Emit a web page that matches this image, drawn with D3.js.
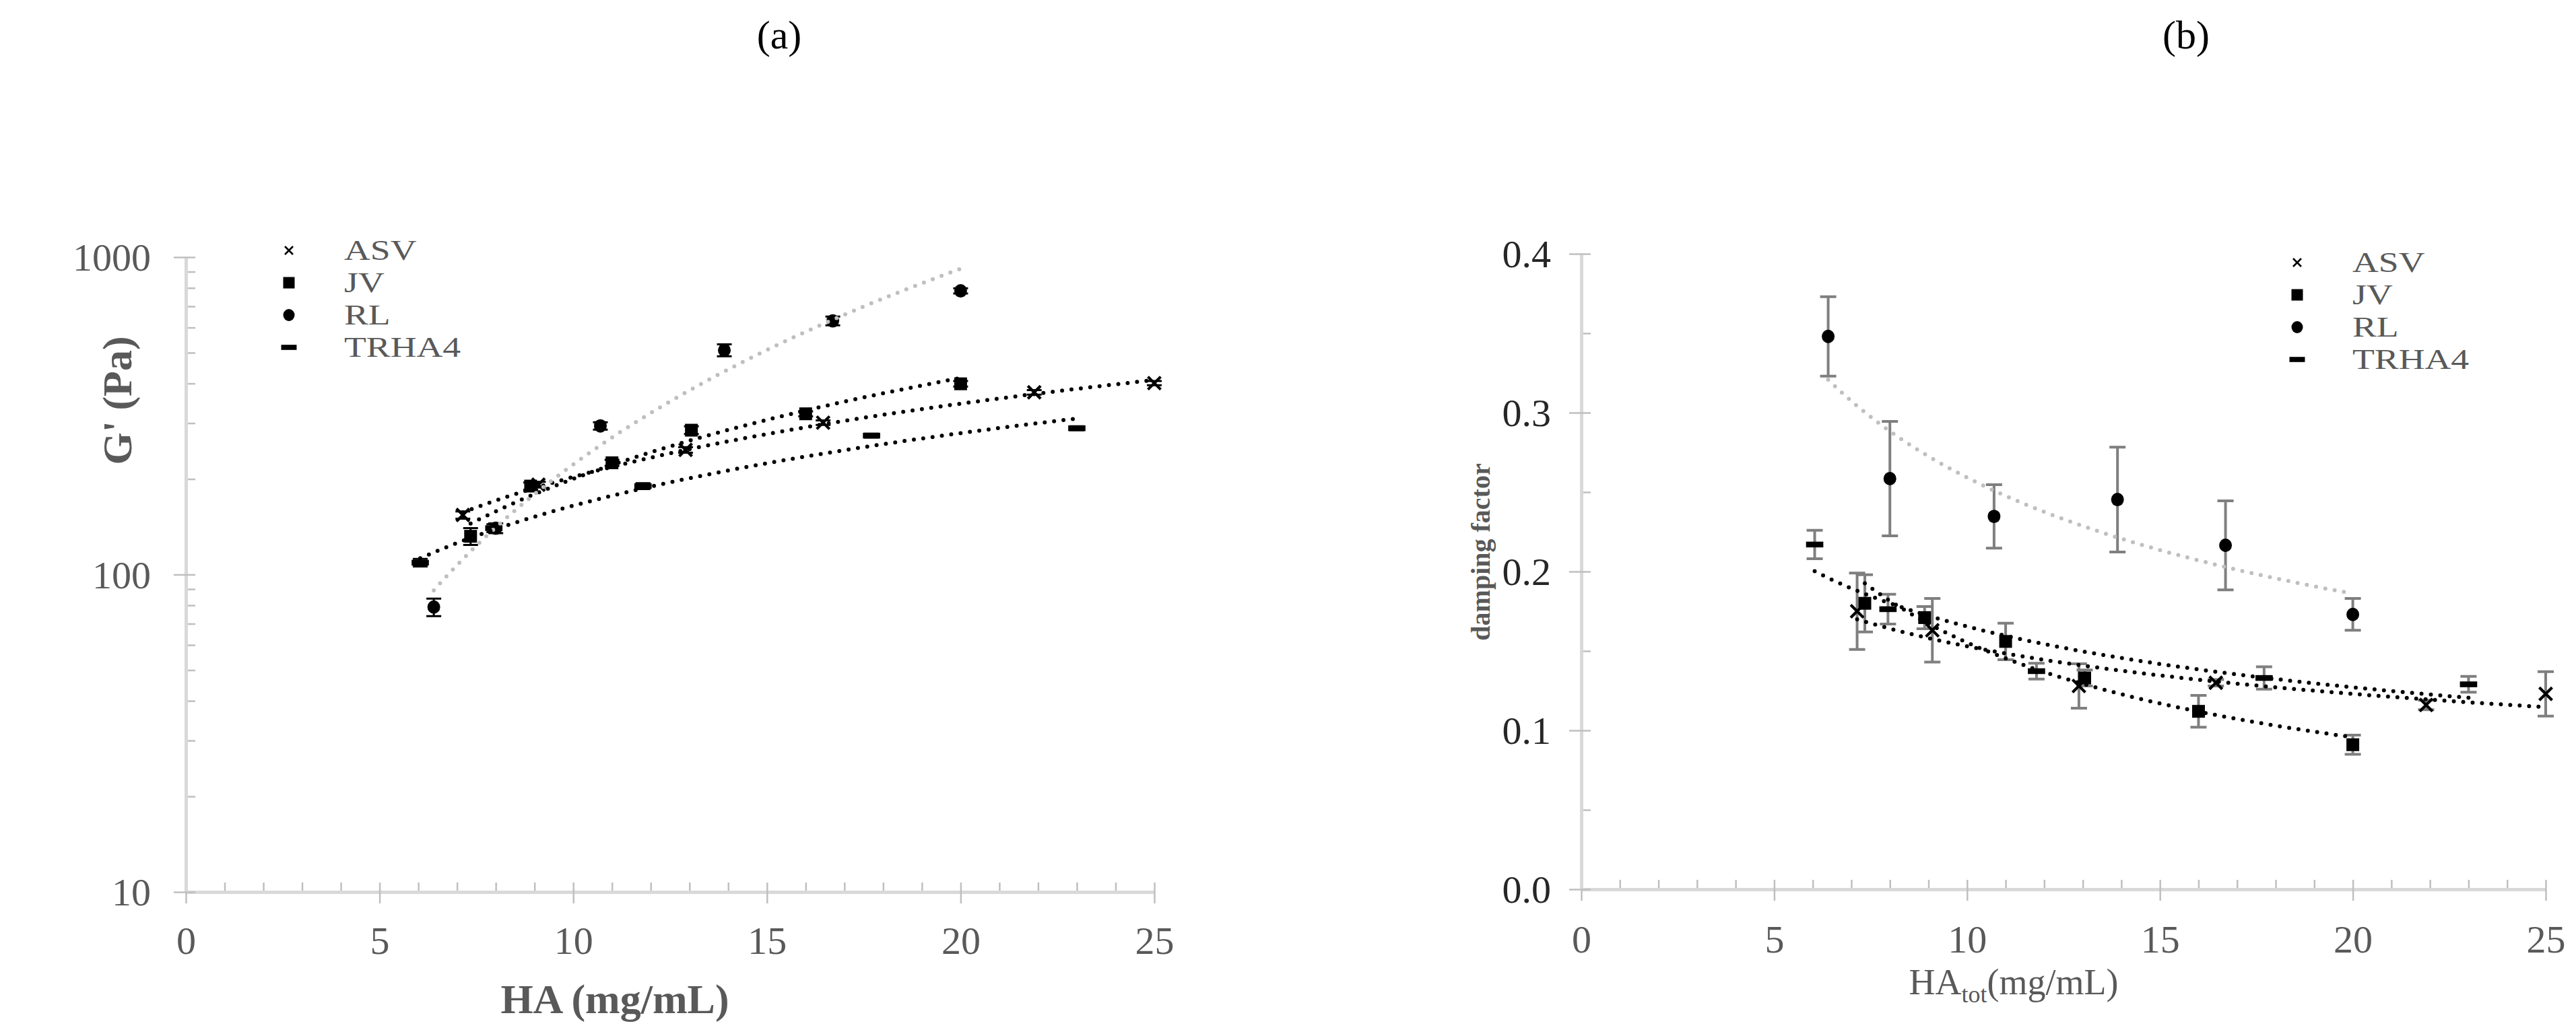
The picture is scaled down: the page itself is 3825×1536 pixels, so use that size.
<!DOCTYPE html>
<html>
<head>
<meta charset="utf-8">
<script src="https://cdn.jsdelivr.net/npm/d3@7"></script>
<style>
	body { margin: 0; background: #fff; }
	text { font-family: "Liberation Serif", "Times New Roman", serif; }
</style>
</head>
<body>
<div id="chart"></div>
<script>

// data ////////////////////////////////////////

let seriesNames  = ["ASV", "JV", "RL", "TRHA4"],
	seriesShapes = ["x", "square", "circle", "dash"];

// HA concentration (mg/mL)
let asvConc   = [7.15, 9.1, 12.9, 16.45, 21.9, 25],
	jvConc    = [7.35, 8.9, 11.0, 13.05, 16.0, 20.0],
	rlConc    = [6.4, 8.0, 10.7, 13.9, 16.7, 20.0],
	trha4Conc = [6.05, 7.95, 11.8, 17.7, 23.0];

// G' (Pa) and its error
let asvStorage      = [154, 192, 247, 301, 375, 401],
	asvStorageErr   = [4, 4, 5, 5, 6, 6],
	jvStorage       = [132, 190, 225, 285, 321, 399],
	jvStorageErr    = [8, 5, 5, 8, 6, 8],
	rlStorage       = [79, 140, 294, 509, 630, 783],
	rlStorageErr    = [5, 5, 8, 22, 20, 15],
	trha4Storage    = [109, 140, 190, 274, 289],
	trha4StorageErr = [3, 4, 4, 4, 4];

// damping factor and its error
let asvDamping      = [0.175, 0.163, 0.128, 0.130, 0.116, 0.123],
	asvDampingErr   = [0.024, 0.020, 0.014, 0.002, 0.003, 0.014],
	jvDamping       = [0.180, 0.171, 0.156, 0.133, 0.112, 0.091],
	jvDampingErr    = [0.018, 0.007, 0.0115, 0.005, 0.010, 0.006],
	rlDamping       = [0.348, 0.2585, 0.2347, 0.2453, 0.2165, 0.173],
	rlDampingErr    = [0.025, 0.036, 0.020, 0.033, 0.028, 0.010],
	trha4Damping    = [0.217, 0.1763, 0.1373, 0.133, 0.129],
	trha4DampingErr = [0.009, 0.0094, 0.005, 0.007, 0.005];

let xMajorTicks     = [0, 5, 10, 15, 20, 25],
	xMinorTicks     = d3.range(1, 25).filter(function (v) { return v % 5 != 0; }),
	gMajorTicks     = [10, 100, 1000],
	gMinorTicks     = [20, 30, 40, 50, 60, 70, 80, 90, 200, 300, 400, 500, 600, 700, 800, 900],
	dampMajorTicks  = [0, 0.1, 0.2, 0.3, 0.4],
	dampMinorTicks  = [0.05, 0.15, 0.25, 0.35];


let concs = [asvConc, jvConc, rlConc, trha4Conc];

let storageSeries = seriesNames.map(function (name, i) {
	let ys = [asvStorage, jvStorage, rlStorage, trha4Storage][i],
		es = [asvStorageErr, jvStorageErr, rlStorageErr, trha4StorageErr][i];
	return { name: name, shape: seriesShapes[i], xs: concs[i], ys: ys, errs: es };
});

let dampingSeries = seriesNames.map(function (name, i) {
	let ys = [asvDamping, jvDamping, rlDamping, trha4Damping][i],
		es = [asvDampingErr, jvDampingErr, rlDampingErr, trha4DampingErr][i];
	return { name: name, shape: seriesShapes[i], xs: concs[i], ys: ys, errs: es };
});


let svg = d3.select("#chart")
	.append("svg")
		.attr("width", 3825)
		.attr("height", 1536);

let axisColor  = "#d9d9d9",
	tickColor  = "#bfbfbf",
	labelGray  = "#595959";


// Excel style power trendline: least squares on ln x / ln y
function powerFit (xs, ys) {
	let lx = xs.map(Math.log),
		ly = ys.map(Math.log),
		mx = d3.mean(lx),
		my = d3.mean(ly);

	let b = d3.sum(lx, function (v, i) { return (v - mx) * (ly[i] - my); }) /
			d3.sum(lx, function (v) { return (v - mx) * (v - mx); }),
		a = Math.exp(my - b * mx);

	return function (v) { return a * Math.pow(v, b); };
}

function addMarker (g, shape, size) {
	let s = size / 2;
	if (shape == "x") {
		g.append("path")
			.attr("d", "M" + (-s) + "," + (-s) + "L" + s + "," + s + "M" + (-s) + "," + s + "L" + s + "," + (-s))
			.attr("stroke", "#000")
			.attr("stroke-width", size * 0.22)
			.attr("fill", "none");
	} else if (shape == "square") {
		g.append("rect")
			.attr("x", -s).attr("y", -s)
			.attr("width", size).attr("height", size)
			.attr("fill", "#000");
	} else if (shape == "circle") {
		g.append("ellipse")
			.attr("rx", s).attr("ry", s * 1.05)
			.attr("fill", "#000");
	} else {
		g.append("rect")
			.attr("x", -s * 1.35).attr("y", -s * 0.45)
			.attr("width", size * 1.35).attr("height", size * 0.45)
			.attr("fill", "#000");
	}
}


function drawPanel (p) {

	let x = p.x,
		y = p.y,
		y0 = y.range()[0];

	// axes /////////////////////////////////////////////////////////

	let gxMinor = svg.append("g")
		.attr("transform", "translate(0," + y0 + ")")
		.call(d3.axisBottom(x).tickValues(xMinorTicks).tickSize(-14).tickSizeOuter(0).tickFormat(""));

	let gx = svg.append("g")
		.attr("transform", "translate(0," + y0 + ")")
		.call(d3.axisBottom(x).tickValues(xMajorTicks).tickSize(17).tickSizeOuter(0).tickFormat(d3.format("d")));

	gx.selectAll(".tick line").attr("y1", -14);
	gx.selectAll(".tick text")
		.attr("y", p.xLabelBase)
		.attr("dy", null)
		.attr("fill", labelGray)
		.style("font-size", "58px");

	let gyMinor = svg.append("g")
		.attr("transform", "translate(" + x.range()[0] + ",0)")
		.call(d3.axisLeft(y).tickValues(p.yMinor).tickSize(-14).tickSizeOuter(0).tickFormat(""));

	let gy = svg.append("g")
		.attr("transform", "translate(" + x.range()[0] + ",0)")
		.call(d3.axisLeft(y).tickValues(p.yMajor).tickSize(18).tickSizeOuter(0).tickFormat(p.yFormat));

	gy.selectAll(".tick line").attr("x1", 14);
	gy.selectAll(".tick text")
		.attr("x", -p.yLabelGap)
		.attr("dy", "0.34em")
		.attr("fill", p.yTickColor)
		.style("font-size", "58px");

	[gxMinor, gx, gyMinor, gy].forEach(function (g) {
		g.select(".domain").attr("stroke", axisColor).attr("stroke-width", 5);
		g.selectAll(".tick line").attr("stroke", tickColor).attr("stroke-width", 2.5);
	});

	// error bars ///////////////////////////////////////////////////

	p.series.forEach(function (s) {
		let eg = svg.append("g");
		s.xs.forEach(function (xv, i) {
			let cx = x(xv),
				top = y(s.ys[i] + s.errs[i]),
				bot = y(s.ys[i] - s.errs[i]);
			eg.append("path")
				.attr("d", "M" + cx + "," + top + "V" + bot +
					"M" + (cx - p.capW / 2) + "," + top + "h" + p.capW +
					"M" + (cx - p.capW / 2) + "," + bot + "h" + p.capW)
				.attr("stroke", p.errColor)
				.attr("stroke-width", p.errWidth)
				.attr("fill", "none");
		});
	});

	// markers //////////////////////////////////////////////////////

	p.series.forEach(function (s) {
		s.xs.forEach(function (xv, i) {
			let mg = svg.append("g")
				.attr("transform", "translate(" + x(xv) + "," + y(s.ys[i]) + ")");
			addMarker(mg, s.shape, 19);
		});
	});

	// trendlines ///////////////////////////////////////////////////

	let line = d3.line()
		.x(function (d) { return x(d[0]); })
		.y(function (d) { return y(d[1]); })
		.curve(d3.curveLinear);

	p.series.forEach(function (s) {
		let fit = powerFit(s.xs, s.ys),
			lo = d3.min(s.xs),
			hi = d3.max(s.xs),
			pts = d3.range(201).map(function (k) {
				let v = lo + (hi - lo) * k / 200;
				return [v, fit(v)];
			});

		svg.append("path")
			.attr("d", line(pts))
			.attr("fill", "none")
			.attr("stroke", s.name == "RL" ? "#bfbfbf" : "#000")
			.attr("stroke-width", 6)
			.attr("stroke-linecap", "round")
			.attr("stroke-dasharray", "0 14");
	});

	// legend ///////////////////////////////////////////////////////

	p.series.forEach(function (s, i) {
		let ly = p.legendY + i * 48,
			mg = svg.append("g").attr("transform", "translate(" + p.legendX + "," + ly + ")");
		addMarker(mg, s.shape, s.shape == "x" ? 12 : 17);

		// the legend text in the figure is drawn wide, so stretch it a bit
		svg.append("text")
			.attr("transform", "translate(" + (p.legendX + 82) + "," + ly + ") scale(1.28,1)")
			.attr("dy", "0.34em")
			.attr("fill", labelGray)
			.style("font-size", "42px")
			.text(s.name);
	});

	// title
	svg.append("text")
		.attr("x", p.titleX)
		.attr("y", 72)
		.attr("text-anchor", "middle")
		.attr("fill", "#000")
		.style("font-size", "60px")
		.text(p.title);
}


// panel (a): G' on a log axis
drawPanel({
	series: storageSeries,
	x: d3.scaleLinear().domain([0, 25]).range([276, 1714]),
	y: d3.scaleLog().domain([10, 1000]).range([1325, 382]),
	yMajor: gMajorTicks,
	yMinor: gMinorTicks,
	yFormat: d3.format("d"),
	yTickColor: labelGray,
	yLabelGap: 52,
	xLabelBase: 92,
	errColor: "#000",
	errWidth: 3,
	capW: 22,
	legendX: 429,
	legendY: 372,
	titleX: 1157,
	title: "(a)"
});

// panel (b): damping factor
drawPanel({
	series: dampingSeries,
	x: d3.scaleLinear().domain([0, 25]).range([2348, 3780]),
	y: d3.scaleLinear().domain([0, 0.4]).range([1321, 377]),
	yMajor: dampMajorTicks,
	yMinor: dampMinorTicks,
	yFormat: d3.format(".1f"),
	yTickColor: "#262626",
	yLabelGap: 45,
	xLabelBase: 94,
	errColor: "#7f7f7f",
	errWidth: 4,
	capW: 24,
	legendX: 3411,
	legendY: 390,
	titleX: 3246,
	title: "(b)"
});


// axis titles ////////////////////////////////////////////////////

svg.append("text")
	.attr("x", 913)
	.attr("y", 1505)
	.attr("text-anchor", "middle")
	.attr("fill", labelGray)
	.style("font-size", "62px")
	.style("font-weight", "bold")
	.text("HA (mg/mL)");

svg.append("text")
	.attr("transform", "translate(195,595) rotate(-90)")
	.attr("text-anchor", "middle")
	.attr("fill", labelGray)
	.style("font-size", "62px")
	.style("font-weight", "bold")
	.text("G' (Pa)");

let haTot = svg.append("text")
	.attr("x", 2990)
	.attr("y", 1477)
	.attr("text-anchor", "middle")
	.attr("fill", labelGray)
	.style("font-size", "54px");
haTot.append("tspan").text("HA");
haTot.append("tspan").attr("dy", 12).style("font-size", "36px").text("tot");
haTot.append("tspan").attr("dy", -12).text("(mg/mL)");

svg.append("text")
	.attr("transform", "translate(2212,820) rotate(-90)")
	.attr("text-anchor", "middle")
	.attr("fill", labelGray)
	.style("font-size", "40px")
	.style("font-weight", "bold")
	.text("damping factor");

</script>
</body>
</html>
